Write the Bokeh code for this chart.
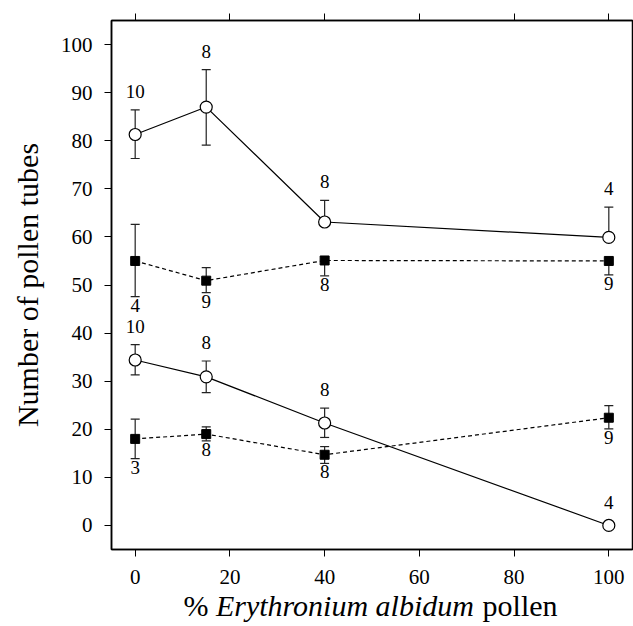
from bokeh.plotting import figure
from bokeh.models import FixedTicker, LinearAxis, Range1d
from bokeh.layouts import column
from bokeh.core.properties import value
from bokeh.embed import file_html
from bokeh.resources import INLINE

nan = float("nan")

x_pct = [0, 15, 40, 100]

upper_circle_mean = [81.3, 87.0, 63.1, 59.9]
upper_circle_hi = [86.4, 94.8, 67.6, 66.2]
upper_circle_lo = [76.3, 79.1, nan, nan]
upper_circle_n = ["10", "8", "8", "4"]

upper_square_mean = [55.0, 50.9, 55.1, 55.0]
upper_square_hi = [62.6, 53.6, nan, nan]
upper_square_lo = [47.6, 48.4, 51.9, 52.1]
upper_square_n = ["4", "9", "8", "9"]

lower_circle_mean = [34.4, 30.9, 21.3, 0.0]
lower_circle_hi = [37.6, 34.2, 24.4, nan]
lower_circle_lo = [31.3, 27.6, 18.3, nan]
lower_circle_n = ["10", "8", "8", "4"]

lower_square_mean = [18.0, 19.0, 14.7, 22.4]
lower_square_hi = [22.1, 20.5, 16.4, 24.9]
lower_square_lo = [13.9, 17.6, 12.9, 20.1]
lower_square_n = ["3", "8", "8", "9"]

x_ticks = [0, 20, 40, 60, 80, 100]
x_tick_labels = ["0", "20", "40", "60", "80", "100"]
y_ticks = [0, 10, 20, 30, 40, 50, 60, 70, 80, 90, 100]

title_texts = ["% ", "Erythronium albidum", "pollen"]
title_styles = ["normal", "italic", "normal"]

FONT = "Liberation Serif"

p = figure(width=633, height=559, output_backend="svg", toolbar_location=None,
           x_range=Range1d(-5, 105), y_range=Range1d(-5, 105),
           min_border_left=111, min_border_right=1, min_border_top=20, min_border_bottom=10,
           background_fill_color="white", border_fill_color="white")
p.grid.visible = False
p.outline_line_color = "black"
p.outline_line_width = 1.5

for ax in [p.xaxis[0], p.yaxis[0]]:
    ax.major_tick_out = 7
    ax.major_tick_in = 0
    ax.minor_tick_out = 0
    ax.minor_tick_in = 0
    ax.axis_line_color = "black"
    ax.axis_line_width = 1.5
    ax.major_tick_line_color = "black"
    ax.major_label_text_font = FONT
    ax.major_label_text_font_size = "21px"
    ax.major_label_text_color = "black"

p.xaxis[0].ticker = FixedTicker(ticks=x_ticks)
p.xaxis[0].major_label_overrides = {t: "" for t in x_ticks}
p.xaxis[0].major_label_text_font_size = "1px"
p.xaxis[0].major_label_standoff = 0
p.yaxis[0].ticker = FixedTicker(ticks=y_ticks)
p.yaxis[0].major_label_standoff = 12
p.yaxis[0].axis_label = "Number of pollen tubes"
p.yaxis[0].axis_label_text_font = FONT
p.yaxis[0].axis_label_text_font_size = "30px"
p.yaxis[0].axis_label_text_font_style = "normal"
p.yaxis[0].axis_label_text_color = "black"
p.yaxis[0].axis_label_standoff = 14

top = LinearAxis(ticker=FixedTicker(ticks=x_ticks))
top.major_tick_out = 7
top.major_tick_in = 0
top.minor_tick_out = 0
top.minor_tick_in = 0
top.major_label_overrides = {t: "" for t in x_ticks}
top.major_label_text_font_size = "1px"
top.major_label_standoff = 0
top.axis_line_color = "black"
top.axis_line_width = 1.5
p.add_layout(top, "above")


def series(mean, hi, lo, n, marker, dash, label_above):
    p.line(x_pct, mean, line_color="black", line_width=1.2, line_dash=dash)
    hi_eff = [h if h == h else m for h, m in zip(hi, mean)]
    lo_eff = [l if l == l else m for l, m in zip(lo, mean)]
    p.segment(x_pct, lo_eff, x_pct, hi_eff, line_color="#222222", line_width=1.2)
    p.scatter(x_pct, hi, marker="dash", size=9, line_color="#222222", line_width=1.2)
    p.scatter(x_pct, lo, marker="dash", size=9, line_color="#222222", line_width=1.2)
    if marker == "circle":
        p.scatter(x_pct, mean, marker="circle", size=12, fill_color="white",
                  line_color="black", line_width=1.2)
    else:
        p.scatter(x_pct, mean, marker="square", size=9, fill_color="black",
                  line_color="black", line_width=1)
    if label_above:
        ys = [h if h == h else m for h, m in zip(hi, mean)]
        offs = [-12 if h == h else -16 for h in hi]
        p.text(x_pct, ys, text=n, y_offset=offs, text_align="center", text_baseline="bottom",
               text_font=value(FONT), text_font_size="19px", text_color="black")
    else:
        ys = [l if l == l else m for l, m in zip(lo, mean)]
        p.text(x_pct, ys, text=n, y_offset=2, text_align="center", text_baseline="top",
               text_font=value(FONT), text_font_size="19px", text_color="black")


series(upper_circle_mean, upper_circle_hi, upper_circle_lo, upper_circle_n, "circle", "solid", True)
series(upper_square_mean, upper_square_hi, upper_square_lo, upper_square_n, "square", "4 3", False)
series(lower_circle_mean, lower_circle_hi, lower_circle_lo, lower_circle_n, "circle", "solid", True)
series(lower_square_mean, lower_square_hi, lower_square_lo, lower_square_n, "square", "4 3", False)

# strip under the plot: x tick labels and the mixed roman/italic axis title.
# Its frame is aligned with the plot frame, so it shares the same x scale.
t = figure(width=633, height=67, output_backend="svg", toolbar_location=None,
           x_range=Range1d(-5, 105), y_range=Range1d(0, 67),
           min_border_left=111, min_border_right=1, min_border_top=0, min_border_bottom=0,
           background_fill_color="white", border_fill_color="white")
t.axis.visible = False
t.grid.visible = False
t.outline_line_color = None
t.text(x_ticks, [50] * len(x_ticks), text=x_tick_labels, text_align="center",
       text_baseline="alphabetic", text_font=value(FONT), text_font_size="21px",
       text_color="black")
title_offsets = [-188.6, -156.1, 110.6]
for txt, style, off in zip(title_texts, title_styles, title_offsets):
    t.text([50], [21], text=[txt], x_offset=off, text_align="left", text_baseline="alphabetic",
           text_font=value(FONT), text_font_size="30px", text_font_style=value(style),
           text_color="black")

layout = column(p, t, spacing=0)
open("out.html", "w").write(file_html(layout, INLINE))
